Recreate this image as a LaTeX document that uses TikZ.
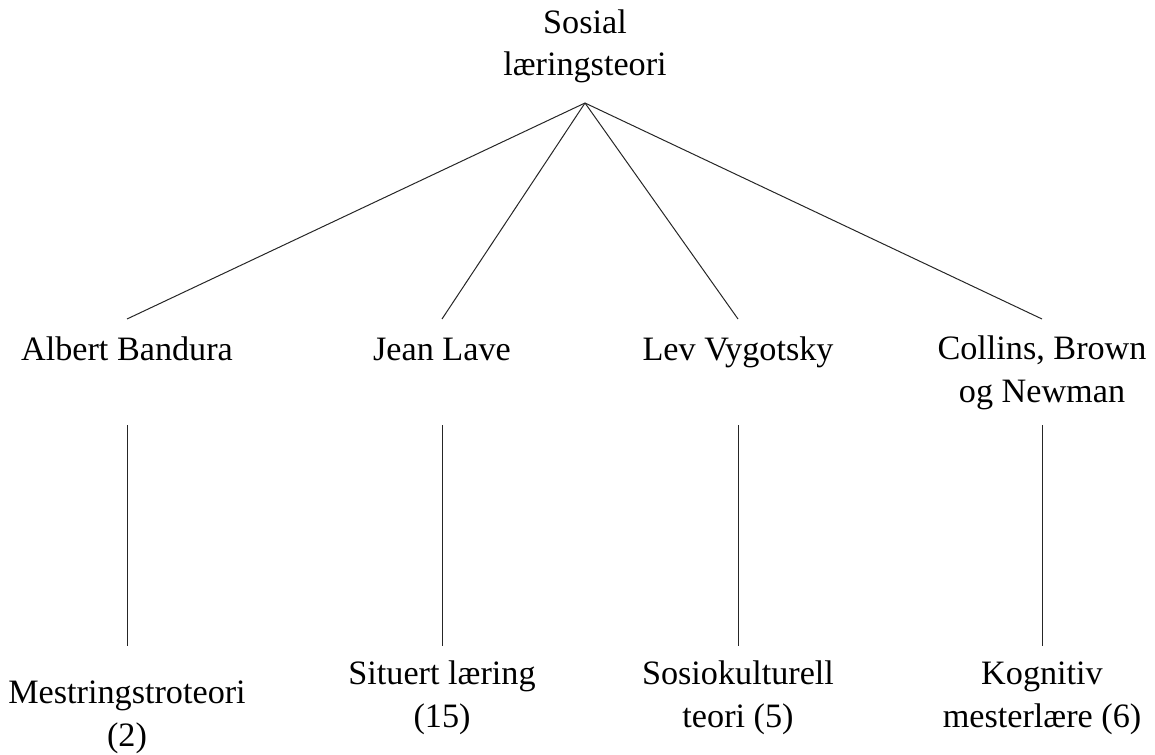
\documentclass[tikz,border=0pt]{standalone}
\usepackage{fontspec}
\setmainfont{Liberation Serif}
\begin{document}
\begin{tikzpicture}[x=1pt,y=-1pt,
  lbl/.style={align=center,anchor=base,inner sep=0pt,font=\fontsize{34.2}{42.5}\selectfont},
  conn/.style={draw=black!85,line width=1pt}]
\useasboundingbox (0,0) rectangle (1155,754);
% nodes (anchor = baseline of the last line)
\node[lbl] (root) at (585,76) {Sosial\\læringsteori};
\node[lbl] (bandura) at (127,360) {Albert Bandura};
\node[lbl] (lave) at (442,360) {Jean Lave};
\node[lbl] (vygotsky) at (738,360) {Lev Vygotsky};
\node[lbl] (collins) at (1042,402) {Collins, Brown\\og Newman};
\node[lbl] (mestring) at (127,746) {Mestringstroteori\\(2)};
\node[lbl] (situert) at (442,727) {Situert læring\\(15)};
\node[lbl] (sosio) at (738,727) {Sosiokulturell\\teori (5)};
\node[lbl] (kognitiv) at (1042,727) {Kognitiv\\mesterlære (6)};
\coordinate (apex) at ([yshift=-27pt]root.base);
% connectors
\draw[conn] (apex) -- ([yshift=41pt]bandura.base);
\draw[conn] (apex) -- ([yshift=41pt]lave.base);
\draw[conn] (apex) -- ([yshift=41pt]vygotsky.base);
\draw[conn] (apex) -- ([yshift=83pt]collins.base);
\draw[conn] ([yshift=-65pt]bandura.base) -- ([yshift=100pt]mestring.base);
\draw[conn] ([yshift=-65pt]lave.base) -- ([yshift=81pt]situert.base);
\draw[conn] ([yshift=-65pt]vygotsky.base) -- ([yshift=81pt]sosio.base);
\draw[conn] ([yshift=-23pt]collins.base) -- ([yshift=81pt]kognitiv.base);
\end{tikzpicture}
\end{document}
